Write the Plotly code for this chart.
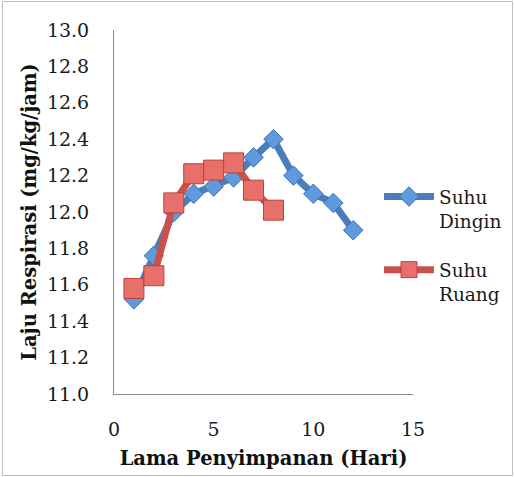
import plotly.graph_objects as go

days = list(range(1, 13))
suhu_dingin = [11.52, 11.76, 12.00, 12.10, 12.14, 12.19, 12.30, 12.40, 12.20, 12.10, 12.05, 11.90]
days_ruang = list(range(1, 9))
suhu_ruang = [11.58, 11.65, 12.05, 12.21, 12.23, 12.27, 12.12, 12.01]

FONT = "DejaVu Serif"
TXT = "#1A1A1A"

fig = go.Figure()
fig.add_trace(go.Scatter(
    x=days, y=suhu_dingin, name="Suhu<br>Dingin", mode="lines+markers", legendgroup="a",
    line=dict(color="#4A7EBB", width=7),
    marker=dict(symbol="diamond", size=15, color="#5E9ADD", line=dict(color="#3E72AE", width=1)),
))
fig.add_trace(go.Scatter(
    x=days_ruang, y=suhu_ruang, name="Suhu<br>Ruang", mode="lines+markers", legendgroup="b",
    line=dict(color="#C9504C", width=7),
    marker=dict(symbol="square", size=20, color="#E8706A", line=dict(color="#B8423E", width=1)),
))

W, H = 514, 477
L, R, T, B = 114, 101, 30, 83
pw, ph = W - L - R, H - T - B

def px(xpix):
    return (xpix - L) / pw

def py(ypix):
    return (H - B - ypix) / ph

fig.update_layout(
    width=W, height=H,
    margin=dict(l=L, r=R, t=T, b=B, autoexpand=False),
    paper_bgcolor="white", plot_bgcolor="white",
    font=dict(family=FONT, size=19, color=TXT),
    showlegend=True,
    legend=dict(x=px(379), y=py(178), xanchor="left", yanchor="top", valign="top",
                font=dict(family=FONT, size=18.5, color=TXT),
                itemwidth=50, tracegroupgap=22, bgcolor="rgba(0,0,0,0)"),
    xaxis=dict(range=[0, 15], dtick=5, tick0=0, showgrid=False, zeroline=False,
               showline=True, linecolor="#8C8C8C", linewidth=1, ticks="",
               ticklabelstandoff=18,
               title=dict(text="<b>Lama Penyimpanan (Hari)</b>", standoff=12,
                          font=dict(family=FONT, size=19.5, color="#111111"))),
    yaxis=dict(range=[11, 13], dtick=0.2, tick0=11, tickformat=".1f", showgrid=False,
               zeroline=False, showline=True, linecolor="#8C8C8C", linewidth=1, ticks="",
               ticklabelstandoff=20,
               title=dict(text="<b>Laju Respirasi (mg/kg/jam)</b>", standoff=5,
                          font=dict(family=FONT, size=19.5, color="#111111"))),
    shapes=[dict(type="rect", xref="paper", yref="paper",
                 x0=px(2.5), x1=px(512.5), y0=py(475.5), y1=py(1.5),
                 line=dict(color="#BFBFBF", width=1), fillcolor="rgba(0,0,0,0)", layer="below")],
)

fig.write_html("out.html")
